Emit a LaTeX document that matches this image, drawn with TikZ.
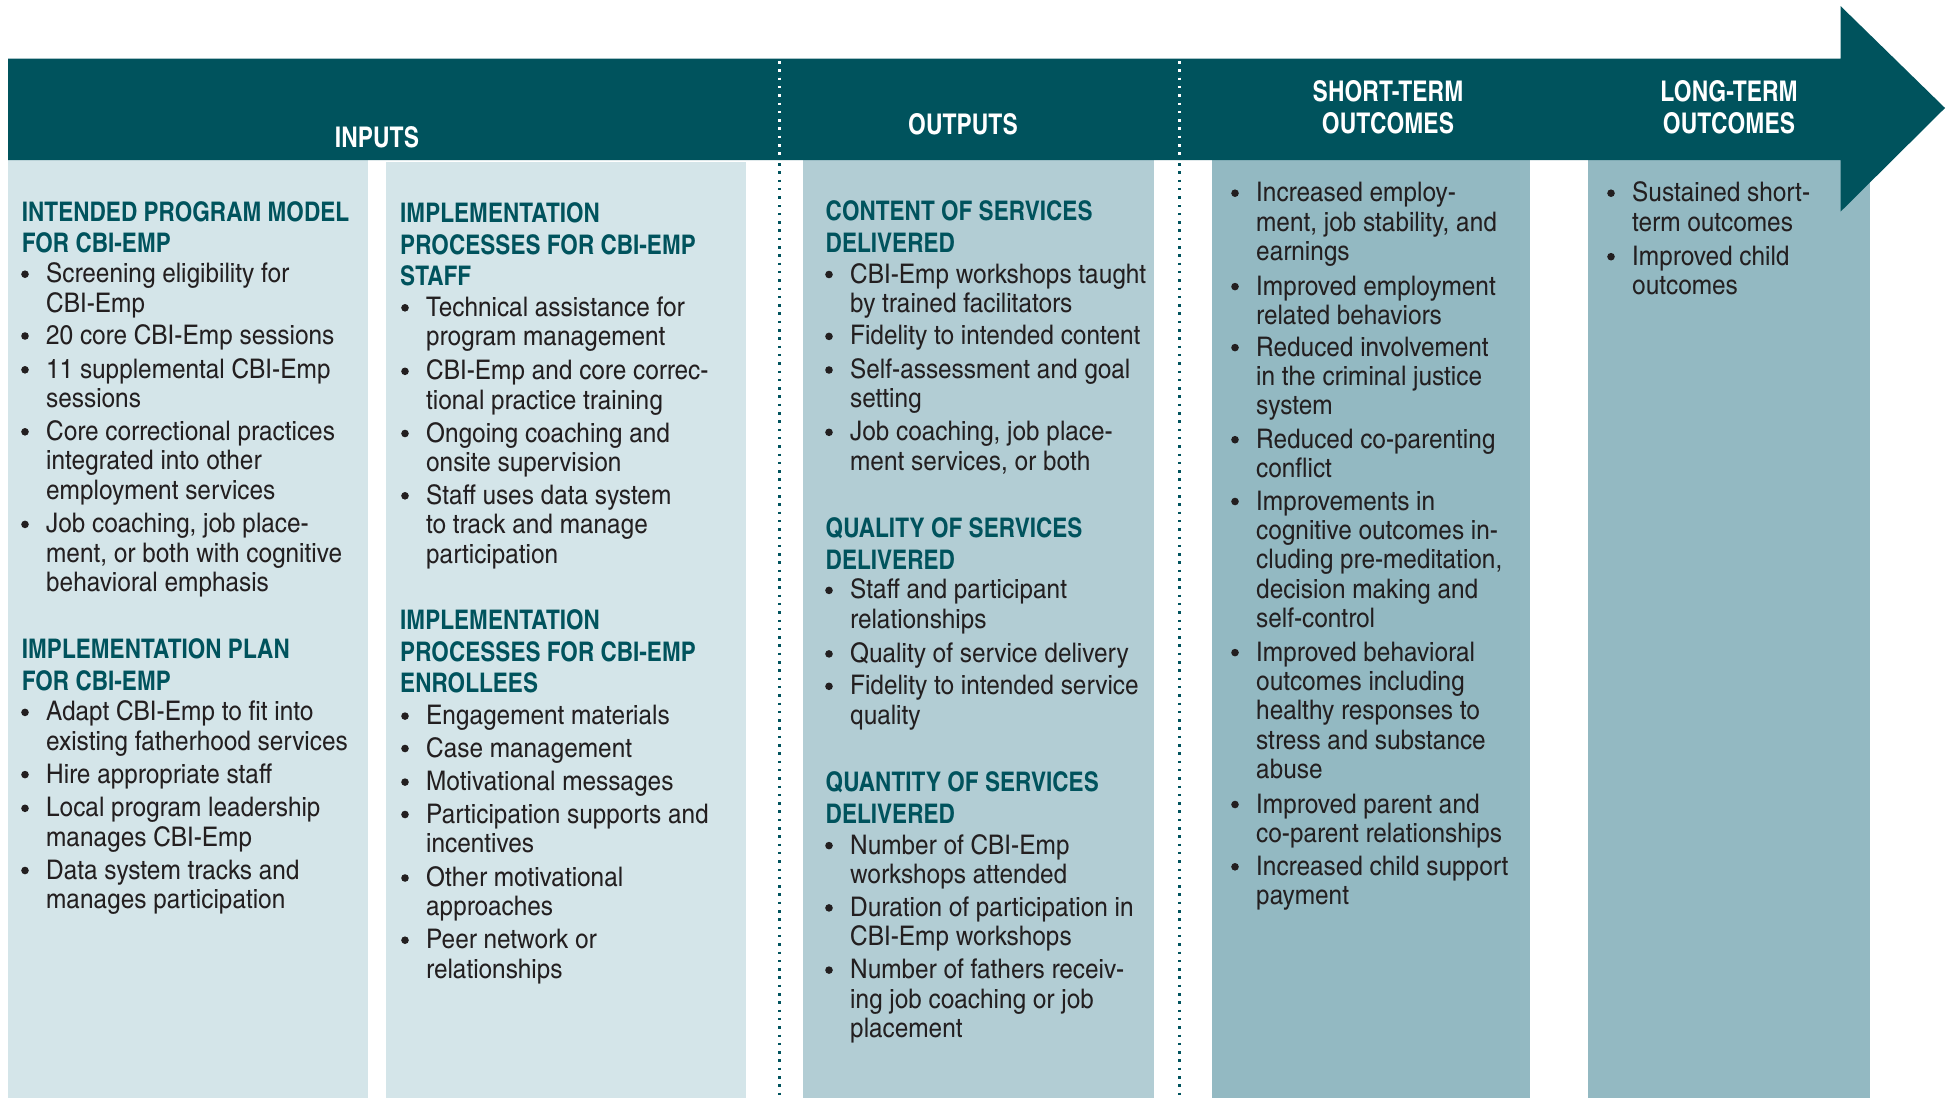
\documentclass[tikz,border=0pt]{standalone}
\usepackage{fontspec}
\newfontfamily\bodyfont{texgyreheroscn-regular.otf}[FakeStretch=1.1]
\newfontfamily\headfont{texgyreheroscn-bold.otf}[FakeStretch=1.02]
\newfontfamily\banfont{texgyreheroscn-bold.otf}[FakeStretch=0.98]
\definecolor{banC}{HTML}{00535D}
\definecolor{headC}{HTML}{00535D}
\definecolor{fillA}{HTML}{D4E5E9}
\definecolor{fillB}{HTML}{B2CDD4}
\definecolor{fillC}{HTML}{93B9C2}
\definecolor{txtC}{HTML}{231F20}
\tikzset{
  body/.style={inner sep=0, text=txtC, font=\bodyfont\fontsize{27}{29.4}\selectfont},
  head/.style={inner sep=0, text=headC, font=\headfont\fontsize{27}{31.7}\selectfont, anchor=base west},
  ban/.style={inner sep=0, text=white, font=\banfont\fontsize{28.5}{31.6}\selectfont, anchor=base},
  dots/.style={line width=2.5pt, dash pattern=on 2.5pt off 5.8pt},
}
\newcommand\bitem[4]{%
  \fill[txtC] (#2,#3-8.5) circle (3.8);
  \node[body, anchor=base west] (#1) at (#2+21,#3) {\begin{tabular}[t]{@{}l@{}}#4\end{tabular}};
}
\newcommand\hitem[4]{%
  \node[head] (#1) at (#2,#3) {\begin{tabular}[t]{@{}l@{}}#4\end{tabular}};
}
\begin{document}
\begin{tikzpicture}[x=1pt,y=-1pt]
\useasboundingbox (0,0) rectangle (1952,1098);
% columns
\fill[fillA] (8,160) rectangle (368,1098);
\fill[fillA] (386,162) rectangle (746,1098);
\fill[fillB] (803,160) rectangle (1154,1098);
\fill[fillC] (1212,160) rectangle (1530,1098);
\fill[fillC] (1588,160) rectangle (1870,1098);
% banner arrow
\fill[banC] (8,58.5) -- (1840.5,58.5) -- (1840.5,6) -- (1945,108) -- (1840.5,211.7) -- (1840.5,160) -- (8,160) -- cycle;
% dotted separators
\draw[dots, white] (779.3,61) -- (779.3,158);
\draw[dots, banC] (779.3,163) -- (779.3,1098);
\draw[dots, white] (1179.5,61) -- (1179.5,158);
\draw[dots, banC] (1179.5,163) -- (1179.5,1098);
% banner labels
\node[ban] (inputs) at (377,147) {INPUTS};
\node[ban] (outputs) at (963,134) {OUTPUTS};
\node[ban] (short) at (1388,101.7) {\begin{tabular}[t]{@{}c@{}}SHORT-TERM\\OUTCOMES\end{tabular}};
\node[ban] (long) at (1729,101.7) {\begin{tabular}[t]{@{}c@{}}LONG-TERM\\OUTCOMES\end{tabular}};
% column 1
\hitem{h1}{21.7}{221}{INTENDED PROGRAM MODEL\\FOR CBI-EMP}
\bitem{a1}{25}{282.7}{Screening eligibility for\\CBI-Emp}
\bitem{a2}{25}{344.5}{20 core CBI-Emp sessions}
\bitem{a3}{25}{378.3}{11 supplemental CBI-Emp\\sessions}
\bitem{a4}{25}{440.3}{Core correctional practices\\integrated into other\\employment services}
\bitem{a5}{25}{532.9}{Job coaching, job place-\\ment, or both with cognitive\\behavioral emphasis}
\hitem{h2}{21.7}{658.4}{IMPLEMENTATION PLAN\\FOR CBI-EMP}
\bitem{a6}{25}{720.9}{Adapt CBI-Emp to fit into\\existing fatherhood services}
\bitem{a7}{25}{783.1}{Hire appropriate staff}
\bitem{a8}{25}{816.8}{Local program leadership\\manages CBI-Emp}
\bitem{a9}{25}{879}{Data system tracks and\\manages participation}
% column 2
\hitem{h3}{400}{222.4}{IMPLEMENTATION\\PROCESSES FOR CBI-EMP\\STAFF}
\bitem{b1}{405}{316.3}{Technical assistance for\\program management}
\bitem{b2}{405}{379.8}{CBI-Emp and core correc-\\tional practice training}
\bitem{b3}{405}{442}{Ongoing coaching and\\onsite supervision}
\bitem{b4}{405}{504.3}{Staff uses data system\\to track and manage\\participation}
\hitem{h4}{400}{629.5}{IMPLEMENTATION\\PROCESSES FOR CBI-EMP\\ENROLLEES}
\bitem{b5}{405}{724.6}{Engagement materials}
\bitem{b6}{405}{757}{Case management}
\bitem{b7}{405}{790.6}{Motivational messages}
\bitem{b8}{405}{823}{Participation supports and\\incentives}
\bitem{b9}{405}{886.5}{Other motivational\\approaches}
\bitem{b10}{405}{948.7}{Peer network or\\relationships}
% column 3
\hitem{h5}{825.5}{220.5}{CONTENT OF SERVICES\\DELIVERED}
\bitem{c1}{829}{283}{CBI-Emp workshops taught\\by trained facilitators}
\bitem{c2}{829}{344.9}{Fidelity to intended content}
\bitem{c3}{829}{378.5}{Self-assessment and goal\\setting}
\bitem{c4}{829}{440.8}{Job coaching, job place-\\ment services, or both}
\hitem{h6}{825.5}{537.4}{QUALITY OF SERVICES\\DELIVERED}
\bitem{c5}{829}{598.9}{Staff and participant\\relationships}
\bitem{c6}{829}{662.4}{Quality of service delivery}
\bitem{c7}{829}{694.8}{Fidelity to intended service\\quality}
\hitem{h7}{825.5}{791.4}{QUANTITY OF SERVICES\\DELIVERED}
\bitem{c8}{829}{854.1}{Number of CBI-Emp\\workshops attended}
\bitem{c9}{829}{916.4}{Duration of participation in\\CBI-Emp workshops}
\bitem{c10}{829}{978.6}{Number of fathers receiv-\\ing job coaching or job\\placement}
% column 4
\bitem{d1}{1235}{201.7}{Increased employ-\\ment, job stability, and\\earnings}
\bitem{d2}{1235}{295.1}{Improved employment\\related behaviors}
\bitem{d3}{1235}{356.1}{Reduced involvement\\in the criminal justice\\system}
\bitem{d4}{1235}{448.2}{Reduced co-parenting\\conflict}
\bitem{d5}{1235}{510}{Improvements in\\cognitive outcomes in-\\cluding pre-meditation,\\decision making and\\self-control}
\bitem{d6}{1235}{661.1}{Improved behavioral\\outcomes including\\healthy responses to\\stress and substance\\abuse}
\bitem{d7}{1235}{813}{Improved parent and\\co-parent relationships}
\bitem{d8}{1235}{875.3}{Increased child support\\payment}
% column 5
\bitem{e1}{1611}{201.7}{Sustained short-\\term outcomes}
\bitem{e2}{1611}{265.2}{Improved child\\outcomes}
\end{tikzpicture}
\end{document}
